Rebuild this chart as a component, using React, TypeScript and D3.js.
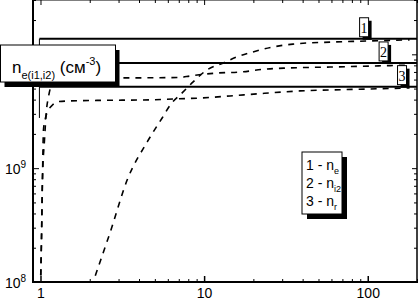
import { useEffect, useRef } from "react";
import * as d3 from "d3";

const svgWidth = 419;
const svgHeight = 300;

// curve 1 - n_e
const neT = [2.05, 2.17, 2.67, 3.39, 4.49, 5.54, 6.21, 7.34, 8.57, 10.4, 13.1, 15.9, 19.9, 26.4, 34.9, 58.7, 103, 180];
const neVal = [9e7, 1.15e8, 2.75e8, 7.9e8, 1.7e9, 2.76e9, 3.59e9, 4.58e9, 5.72e9, 7.29e9, 8.4e9, 9.5e9, 1.05e10, 1.16e10, 1.23e10, 1.28e10, 1.31e10, 1.34e10];

// curve 2 - n_i2
const ni2T = [1.0, 1.014, 1.028, 1.058, 1.088, 1.119, 1.151, 1.234, 1.42, 2.02, 3.07, 4.69, 7.13, 8.2, 12.0, 16.6, 24.2, 32.1, 58.7, 103, 180];
const ni2Val = [9e7, 2.34e8, 7.9e8, 1.77e9, 3.24e9, 4.22e9, 5.06e9, 5.72e9, 5.96e9, 6.08e9, 6.2e9, 6.22e9, 6.27e9, 6.45e9, 6.85e9, 6.99e9, 7.43e9, 7.58e9, 7.73e9, 7.88e9, 8.04e9];

// curve 3 - n_r
const nrT = [1.0, 1.014, 1.028, 1.043, 1.073, 1.119, 1.184, 1.27, 1.523, 2.32, 4.69, 6.65, 9.87, 14.4, 21.0, 30.4, 38.5, 58.7, 103, 180];
const nrVal = [9e7, 2.34e8, 7.9e8, 2.17e9, 2.76e9, 3.24e9, 3.59e9, 3.83e9, 3.9e9, 3.94e9, 3.98e9, 4.06e9, 4.14e9, 4.31e9, 4.49e9, 4.67e9, 4.77e9, 4.86e9, 4.96e9, 5.06e9];

// saturation levels (solid lines) and their tags
const levels = [1.37e10, 8.4e9, 5.2e9];
const levelTags = ["1", "2", "3"];
const tagT = [95, 125, 162];
const levelStart = 0.985;
const frameLow = 2.76e9;

const xMajor = [1, 10, 100];
const yMajor = [1e8, 1e9, 1e10];
const yLabeled = [1e8, 1e9];
const yExp = ["8", "9"];

const legendNum = ["1 - n", "2 - n", "3 - n"];
const legendSub = ["e", "i2", "r"];

export default function App() {
    const d3Selection = useRef<SVGSVGElement>(null);

    useEffect(() => {
        const svg = d3.select(d3Selection.current);
        svg.selectAll("*").remove();

        const left = 33, right = 417, top = 0, bottom = 282;
        const font = "'Liberation Sans', Arial, sans-serif";

        const x = d3.scaleLog().domain([0.9, 200]).range([left, right]);
        const y = d3.scaleLog().domain([1e8, 3e10]).range([bottom, top]);

        const minorX = x.ticks().filter(v => v >= 1 && !xMajor.includes(v));
        const minorY = y.ticks().filter(v => !yMajor.some(m => Math.abs(m - v) < 1));

        svg.append("rect").attr("width", svgWidth).attr("height", svgHeight).attr("fill", "#fff");

        const clean = (g: any) => g.select(".domain").remove();

        // bottom axis
        svg.append("g").attr("transform", `translate(0,${bottom})`)
            .call(d3.axisBottom(x).tickValues(minorX).tickSize(-3).tickFormat(() => ""))
            .call(clean);
        const xAxis = svg.append("g").attr("transform", `translate(0,${bottom})`)
            .call(d3.axisBottom(x).tickValues(xMajor).tickSize(-6).tickPadding(6).tickFormat(d3.format("d")))
            .call(clean);
        xAxis.attr("font-size", 14).attr("font-family", font);
        xAxis.selectAll("line").attr("stroke-width", 1.5);

        // top axis
        svg.append("g").attr("transform", `translate(0,${top})`)
            .call(d3.axisTop(x).tickValues(minorX).tickSize(-3).tickFormat(() => ""))
            .call(clean);
        svg.append("g").attr("transform", `translate(0,${top})`)
            .call(d3.axisTop(x).tickValues(xMajor).tickSize(-5).tickFormat(() => ""))
            .call(clean);

        // left axis
        svg.append("g").attr("transform", `translate(${left},0)`)
            .call(d3.axisLeft(y).tickValues(minorY).tickSize(-3).tickFormat(() => ""))
            .call(clean);
        svg.append("g").attr("transform", `translate(${left},0)`)
            .call(d3.axisLeft(y).tickValues(yMajor).tickSize(-6).tickFormat(() => ""))
            .call(clean);

        // right axis
        svg.append("g").attr("transform", `translate(${right},0)`)
            .call(d3.axisRight(y).tickValues(minorY).tickSize(-3).tickFormat(() => ""))
            .call(clean);
        svg.append("g").attr("transform", `translate(${right},0)`)
            .call(d3.axisRight(y).tickValues(yMajor).tickSize(-5).tickFormat(() => ""))
            .call(clean);

        // frame
        svg.append("line").attr("x1", left).attr("x2", left).attr("y1", top).attr("y2", bottom + 1)
            .attr("stroke", "#000").attr("stroke-width", 2);
        svg.append("line").attr("x1", left - 1).attr("x2", right + 1).attr("y1", bottom).attr("y2", bottom)
            .attr("stroke", "#000").attr("stroke-width", 2);
        svg.append("line").attr("x1", right).attr("x2", right).attr("y1", top).attr("y2", bottom)
            .attr("stroke", "#000").attr("stroke-width", 1.5);
        svg.append("line").attr("x1", left).attr("x2", right).attr("y1", top).attr("y2", top)
            .attr("stroke", "#000").attr("stroke-width", 1);

        // y labels 10^n
        yLabeled.forEach((v, i) => {
            const t = svg.append("text")
                .attr("x", 5).attr("y", y(v) + 6)
                .attr("font-family", font).attr("font-size", 14);
            t.append("tspan").text("10");
            t.append("tspan").attr("dy", -6).attr("font-size", 10).text(yExp[i]);
        });

        // clip
        svg.append("clipPath").attr("id", "plot-clip")
            .append("rect").attr("x", left + 1).attr("y", top).attr("width", right - left - 1).attr("height", bottom - top - 1);

        // saturation levels
        levels.forEach(v => {
            svg.append("line")
                .attr("x1", x(levelStart)).attr("x2", right)
                .attr("y1", y(v)).attr("y2", y(v))
                .attr("stroke", "#000").attr("stroke-width", 2);
        });
        svg.append("line")
            .attr("x1", x(levelStart)).attr("x2", x(levelStart))
            .attr("y1", y(levels[0])).attr("y2", y(frameLow))
            .attr("stroke", "#000").attr("stroke-width", 1);

        // curves
        const series = [[neT, neVal], [ni2T, ni2Val], [nrT, nrVal]];
        series.forEach(([ts, vs]) => {
            const pts = ts.map((t, i) => [x(t), y(vs[i])] as [number, number]);
            svg.append("path")
                .attr("clip-path", "url(#plot-clip)")
                .attr("d", d3.line().curve(d3.curveMonotoneX)(pts))
                .attr("fill", "none")
                .attr("stroke", "#000")
                .attr("stroke-width", 1.6)
                .attr("stroke-dasharray", "6,6");
        });

        // tags 1,2,3
        levels.forEach((v, i) => {
            const bx = x(tagT[i]) - 4.5;
            const by = y(v) - 21;
            svg.append("rect").attr("x", bx + 3).attr("y", by + 3).attr("width", 9).attr("height", 19).attr("fill", "#000");
            svg.append("rect").attr("x", bx).attr("y", by).attr("width", 9).attr("height", 19)
                .attr("fill", "#fff").attr("stroke", "#000").attr("stroke-width", 1);
            svg.append("text").attr("x", bx + 4.5).attr("y", by + 15)
                .attr("text-anchor", "middle")
                .attr("font-family", "'Liberation Serif', serif").attr("font-size", 14)
                .text(levelTags[i]);
        });

        // title box
        const tb = { x: 0.5, y: 45, w: 115, h: 37 };
        svg.append("rect").attr("x", tb.x + 4).attr("y", tb.y + 5).attr("width", tb.w).attr("height", tb.h).attr("fill", "#000");
        svg.append("rect").attr("x", tb.x).attr("y", tb.y).attr("width", tb.w).attr("height", tb.h)
            .attr("fill", "#fff").attr("stroke", "#000").attr("stroke-width", 1);
        const title = svg.append("text").attr("x", 12).attr("y", 73)
            .attr("font-family", font).attr("font-size", 17);
        title.append("tspan").text("n");
        title.append("tspan").attr("dy", 6).attr("font-size", 11).text("e(i1,i2)");
        title.append("tspan").attr("dy", -6).text(" (см");
        title.append("tspan").attr("dy", -8).attr("font-size", 11).text("-3");
        title.append("tspan").attr("dy", 8).text(")");

        // legend box
        const lb = { x: 302, y: 152, w: 40, h: 62 };
        svg.append("rect").attr("x", lb.x + 5).attr("y", lb.y + 5).attr("width", lb.w).attr("height", lb.h).attr("fill", "#000");
        svg.append("rect").attr("x", lb.x).attr("y", lb.y).attr("width", lb.w).attr("height", lb.h)
            .attr("fill", "#fff").attr("stroke", "#000").attr("stroke-width", 1);
        legendNum.forEach((s, i) => {
            const t = svg.append("text").attr("x", lb.x + 4).attr("y", lb.y + 18 + i * 18)
                .attr("font-family", font).attr("font-size", 14);
            t.append("tspan").text(s);
            t.append("tspan").attr("dy", 4).attr("font-size", 9).text(legendSub[i]);
        });
    }, []);

    return <svg width={svgWidth} height={svgHeight} ref={d3Selection}
        style={{ position: "absolute", left: 0, top: 0 }}></svg>;
}
